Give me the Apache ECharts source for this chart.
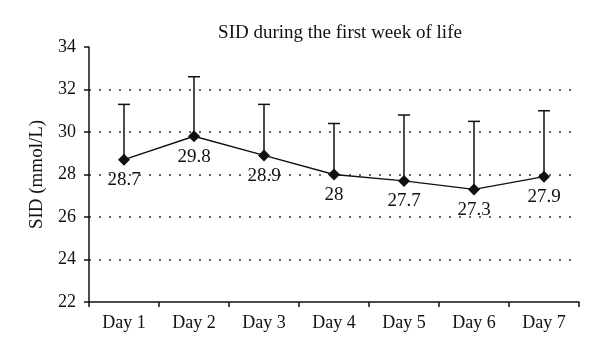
<!DOCTYPE html>
<html>
<head>
<meta charset="utf-8">
<script src="https://cdn.jsdelivr.net/npm/echarts@6/dist/echarts.min.js"></script>
<style>
  html, body { margin: 0; padding: 0; background: #fff; }
  #chart { width: 600px; height: 353px; }
</style>
</head>
<body>
<div id="chart"></div>
<script>
// data
const days = ['Day 1', 'Day 2', 'Day 3', 'Day 4', 'Day 5', 'Day 6', 'Day 7'];
const sidMean = [28.7, 29.8, 28.9, 28, 27.7, 27.3, 27.9];
const sidUpper = [31.3, 32.6, 31.3, 30.4, 30.8, 30.5, 31.0];

const serif = '"Liberation Serif", "DejaVu Serif", serif';
const chart = echarts.init(document.getElementById('chart'));

chart.setOption({
  animation: false,
  backgroundColor: '#fff',
  title: {
    text: 'SID during the first week of life',
    left: 335, top: 19, textAlign: 'center',
    textStyle: { fontFamily: serif, fontSize: 19, fontWeight: 'normal', color: '#111' }
  },
  grid: { left: 89, right: 21, top: 47, bottom: 51 },
  xAxis: {
    type: 'category',
    data: days,
    axisLine: { lineStyle: { color: '#111', width: 1.5 } },
    axisTick: { show: true, length: 5, lineStyle: { color: '#111', width: 1.5 } },
    axisLabel: { fontFamily: serif, fontSize: 18, color: '#111', margin: 12 }
  },
  yAxis: {
    type: 'value',
    min: 22, max: 34, interval: 2,
    name: 'SID (mmol/L)',
    nameLocation: 'middle',
    nameGap: 42,
    nameTextStyle: { fontFamily: serif, fontSize: 19, color: '#111' },
    axisLine: { show: true, lineStyle: { color: '#111', width: 1.5 } },
    axisTick: { show: true, length: 5, lineStyle: { color: '#111', width: 1.5 } },
    axisLabel: { fontFamily: serif, fontSize: 18, color: '#111', margin: 13 },
    splitLine: {
      show: true,
      showMinLine: false, showMaxLine: false,
      lineStyle: { color: '#333', type: [2, 8], dashOffset: -10, width: 1.5 }
    }
  },
  series: [
    {
      // error bars (mean to upper)
      type: 'custom',
      data: days.map((d, i) => [i, sidMean[i], sidUpper[i]]),
      renderItem: (params, api) => {
        const lo = api.coord([api.value(0), api.value(1)]);
        const hi = api.coord([api.value(0), api.value(2)]);
        const half = 6;
        const style = { stroke: '#111', lineWidth: 1.5 };
        return {
          type: 'group',
          children: [
            { type: 'line', shape: { x1: lo[0], y1: lo[1], x2: hi[0], y2: hi[1] }, style },
            { type: 'line', shape: { x1: hi[0] - half, y1: hi[1], x2: hi[0] + half, y2: hi[1] }, style }
          ]
        };
      },
      z: 2
    },
    {
      type: 'line',
      data: sidMean,
      symbol: 'diamond',
      symbolSize: 12,
      itemStyle: { color: '#111' },
      lineStyle: { color: '#111', width: 1.5 },
      label: {
        show: true, position: 'bottom', distance: 5,
        fontFamily: serif, fontSize: 19, color: '#111'
      },
      z: 3
    }
  ]
});
</script>
</body>
</html>
